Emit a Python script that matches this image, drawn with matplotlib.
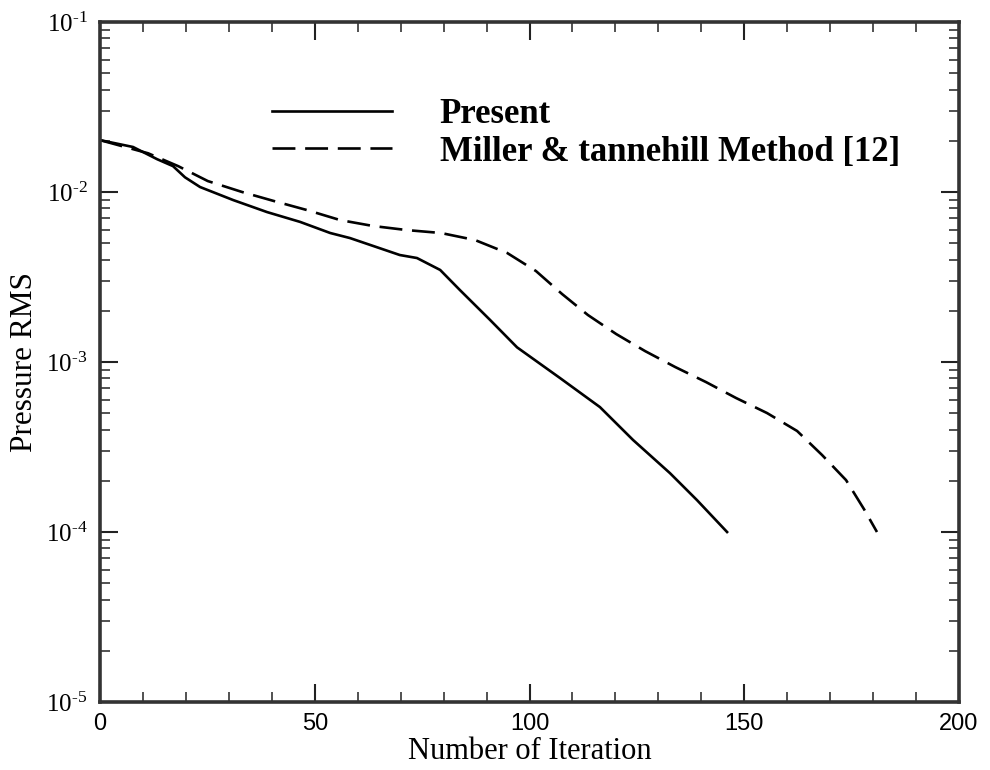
import matplotlib
matplotlib.use('Agg')
import matplotlib.pyplot as plt
from matplotlib.ticker import MultipleLocator, LogLocator, FuncFormatter, NullFormatter
import numpy as np

# convergence history, pressure RMS vs iteration
present_iter = [0, 7.7, 13.3, 17.0, 19.8, 23.3, 31.0, 38.9, 46.6, 53.6, 58.2, 69.8, 73.8,
                79.2, 83.8, 90.8, 97.1, 107.1, 116.4, 124.1, 132.7, 139.0, 146.0]
present_rms = [0.0202, 0.0184, 0.0156, 0.0142, 0.0122, 0.0107, 0.00897, 0.00762, 0.00667,
               0.00574, 0.00536, 0.00426, 0.00409, 0.00348, 0.00265, 0.00177, 0.00122,
               0.000805, 0.000543, 0.000348, 0.000222, 0.000154, 0.0001]

miller_iter = [0, 11.2, 18.2, 25.1, 33.1, 40.5, 48.2, 55.9, 63.6, 71.5, 79.4, 87.3, 94.8,
               101.5, 107.6, 113.6, 120.2, 126.9, 133.9, 141.1, 148.1, 155.3, 162.3,
               168.1, 173.7, 177.9, 180.9]
miller_rms = [0.0202, 0.0169, 0.0142, 0.0116, 0.0100, 0.00885, 0.00783, 0.00684, 0.00631,
              0.00597, 0.00574, 0.00522, 0.00438, 0.00343, 0.00251, 0.00189, 0.00146,
              0.00116, 0.000935, 0.000762, 0.000614, 0.000501, 0.000393, 0.000284,
              0.000202, 0.000136, 0.0001]

x_ticks = [0, 50, 100, 150, 200]

plt.rcParams['font.family'] = 'Liberation Serif'
plt.rcParams['mathtext.fontset'] = 'custom'
plt.rcParams['mathtext.rm'] = 'Liberation Serif'
plt.rcParams['lines.scale_dashes'] = False

fig = plt.figure(figsize=(9.9, 7.7), dpi=100)
ax = fig.add_axes([0.101, 0.0883, 0.8677, 0.8831])

ax.plot(present_iter, present_rms, color='black', lw=1.9, label='Present')
ax.plot(miller_iter, miller_rms, color='black', lw=1.9, dashes=(16.5, 7),
        dash_capstyle='butt', label='Miller & tannehill Method [12]')

ax.set_yscale('log')
ax.set_xlim(0, 200)
ax.set_ylim(1e-5, 1e-1)


def decade_label(v, pos):
    e = int(round(np.log10(v)))
    return r'$\mathregular{10^{\text{-}%d}}$' % (-e)


ax.xaxis.set_minor_locator(MultipleLocator(10))
ax.set_xticks(x_ticks)
ax.set_xticklabels([str(t) for t in x_ticks], family='Liberation Sans', fontsize=17)
ax.yaxis.set_major_locator(LogLocator(base=10))
ax.yaxis.set_minor_locator(LogLocator(base=10, subs=range(2, 10)))
ax.yaxis.set_major_formatter(FuncFormatter(decade_label))
ax.yaxis.set_minor_formatter(NullFormatter())

ax.tick_params(which='both', direction='in', top=True, right=True, color='#222222')
ax.tick_params(which='major', length=13, width=1.5)
ax.tick_params(which='minor', length=7.5, width=1.1)
ax.tick_params(axis='x', which='major', pad=8)
ax.tick_params(axis='y', which='major', pad=9, labelsize=18)
for sp in ax.spines.values():
    sp.set_linewidth(2.6)
    sp.set_color('#333333')

ax.set_xlabel('Number of Iteration', fontsize=22, labelpad=1)
ax.set_ylabel('Pressure RMS', fontsize=22.5, labelpad=5)

leg = ax.legend(loc='center left', bbox_to_anchor=(0.2, 0.836), frameon=False,
                prop={'family': 'Liberation Serif', 'weight': 'bold', 'size': 25},
                handlelength=3.46, handletextpad=1.38, labelspacing=0.12,
                borderpad=0, borderaxespad=0)

fig.savefig('out.png', dpi=100)
